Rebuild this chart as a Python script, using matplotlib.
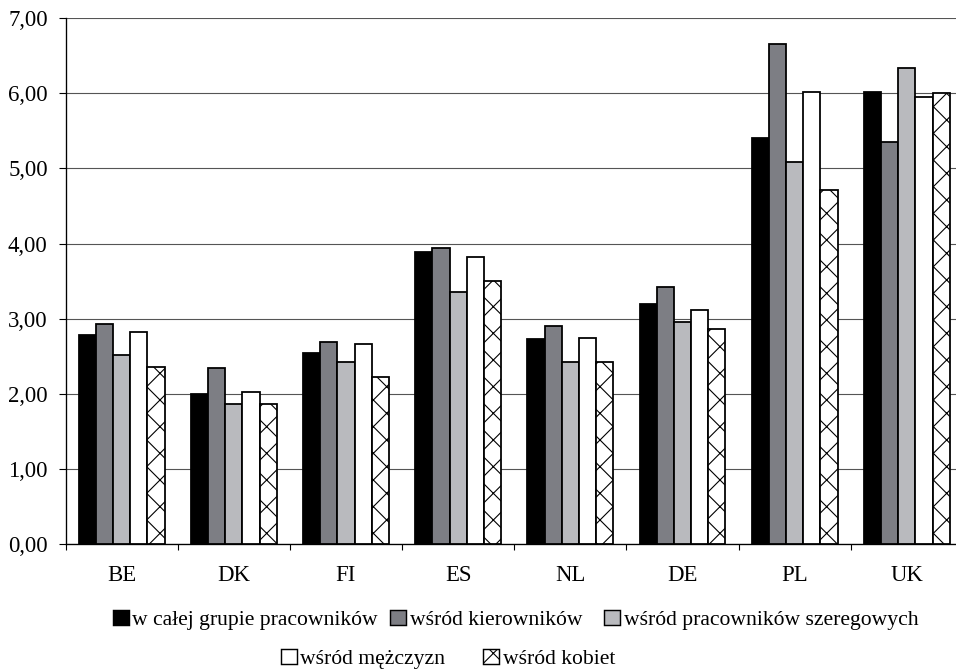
import matplotlib.pyplot as plt
from matplotlib.patches import Patch
import numpy as np

plt.rcParams['font.family'] = ['Liberation Serif', 'DejaVu Serif']
plt.rcParams['hatch.linewidth'] = 1.0

countries = ['BE', 'DK', 'FI', 'ES', 'NL', 'DE', 'PL', 'UK']
series_names = [
    'w całej grupie pracowników',
    'wśród kierowników',
    'wśród pracowników szeregowych',
    'wśród mężczyzn',
    'wśród kobiet',
]
all_workers = [2.79, 2.00, 2.55, 3.89, 2.73, 3.19, 5.41, 6.01]
managers = [2.93, 2.34, 2.69, 3.94, 2.91, 3.42, 6.65, 5.35]
rank_and_file = [2.52, 1.87, 2.42, 3.35, 2.42, 2.96, 5.08, 6.34]
men = [2.83, 2.03, 2.67, 3.82, 2.74, 3.12, 6.02, 5.95]
women = [2.36, 1.87, 2.23, 3.50, 2.42, 2.87, 4.71, 6.00]
y_ticks = [0, 1, 2, 3, 4, 5, 6, 7]

series = [all_workers, managers, rank_and_file, men, women]
faces = ['#000000', '#7d7e84', '#b9babe', '#ffffff', '#ffffff']
hatches = [None, None, None, None, 'x']

DPI = 80
W, H = 956, 669
fig = plt.figure(figsize=(W / DPI, H / DPI), dpi=DPI)
ax = fig.add_axes([65.5 / W, 124.7 / H, 897.5 / W, 526.3 / H])

x = np.arange(len(countries)) + 0.5
w = 0.153
for k, (vals, fc, h) in enumerate(zip(series, faces, hatches)):
    ax.bar(x + (k - 2) * w, vals, width=w, color=fc, edgecolor='black',
           linewidth=1.6, hatch=h, zorder=3)

ax.set_xlim(0, len(countries))
ax.set_ylim(0, 7)
ax.set_yticks(y_ticks)
ax.set_yticklabels([f'{t:.2f}'.replace('.', ',') for t in y_ticks])
ax.yaxis.grid(True, color='#555555', linewidth=1.0, zorder=0)
ax.set_axisbelow(True)

# group separators as major ticks, country names on minor ticks
ax.set_xticks(np.arange(len(countries) + 1))
ax.set_xticklabels([])
ax.set_xticks(x, minor=True)
ax.set_xticklabels(countries, minor=True)
ax.tick_params(axis='x', which='major', length=5, width=1.0, direction='out')
ax.tick_params(axis='x', which='minor', length=0, pad=19, labelsize=20.5)
ax.tick_params(axis='y', length=6, width=1.0, direction='out', pad=10,
               labelsize=20.5)

for side in ['top', 'right']:
    ax.spines[side].set_visible(False)
ax.spines['left'].set_linewidth(1.2)
ax.spines['bottom'].set_linewidth(1.2)

# legend: one entry per box so each one sits where it should
legend_spots = [(113, 620), (390, 620), (604, 620), (281, 659), (483, 659)]
for fc, h, name, (lx, ly) in zip(faces, hatches, series_names, legend_spots):
    patch = Patch(facecolor=fc, edgecolor='black', linewidth=1.3, hatch=h, label=name)
    fig.legend(handles=[patch], loc='center left', bbox_to_anchor=(lx / W, 1 - ly / H),
               frameon=False, fontsize=19.5, handlelength=0.72, handleheight=0.72,
               handletextpad=0.18, borderpad=0, borderaxespad=0)

fig.savefig('out.png', dpi=DPI)
